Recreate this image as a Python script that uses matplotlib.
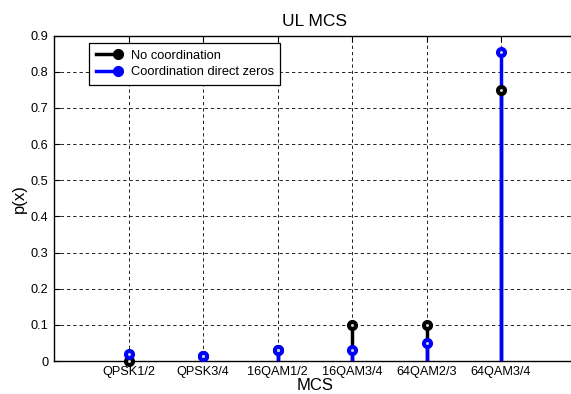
import numpy as np
import matplotlib.pyplot as plt

# Data
mcs_labels = ['QPSK1/2', 'QPSK3/4', '16QAM1/2', '16QAM3/4', '64QAM2/3', '64QAM3/4']
p_no_coord = [0.0, 0.015, 0.03, 0.10, 0.10, 0.75]
p_coord_zeros = [0.02, 0.015, 0.03, 0.03, 0.05, 0.855]

plt.rcParams['font.family'] = ['Liberation Sans', 'DejaVu Sans']

W, H = 571, 394
fig = plt.figure(figsize=(W / 100, H / 100), dpi=100)
ax = fig.add_axes([54 / W, 1 - 361 / H, 521.5 / W, 325.3 / H])

x = np.arange(1, len(mcs_labels) + 1)
LW = 2.5
MS = 7

for vals, col, lab in [(p_no_coord, 'black', 'No coordination'),
                       (p_coord_zeros, '#0000ff', 'Coordination direct zeros')]:
    ax.vlines(x, 0, vals, colors=col, linewidth=LW, zorder=3)
    ax.plot(x, vals, linewidth=0, marker='o', markersize=MS,
            color=col, clip_on=False, zorder=4)
    # small light centre dot as in the original rendering
    ax.plot(x, vals, linewidth=0, marker='o', markersize=1.2,
            color='#cccccc', clip_on=False, zorder=5)
    # proxy for legend (line + marker at the end)
    ax.plot([], [], color=col, linewidth=LW, marker='o', markersize=MS, label=lab)

ax.set_xlim(0, 7)
ax.set_ylim(0, 0.9)
ax.set_xticks(x)
ax.set_xticklabels(mcs_labels, fontsize=9.2)
ax.set_yticks(np.arange(0, 0.91, 0.1))
ax.set_yticklabels(['0'] + ['%.1f' % v for v in np.arange(0.1, 0.91, 0.1)], fontsize=9.2)
ax.tick_params(direction='in', top=True, right=True, length=4, width=0.8)
ax.tick_params(axis='x', pad=3.5)
ax.tick_params(axis='y', pad=4)

ax.grid(True, color='black', linestyle=(0, (4, 3.5)), linewidth=0.6)
ax.set_axisbelow(True)
for s in ax.spines.values():
    s.set_linewidth(1.0)

ax.set_title('UL MCS', fontsize=12.5, pad=7)
ax.set_xlabel('MCS', fontsize=12, labelpad=0)
ax.set_ylabel('p(x)', fontsize=12, labelpad=3)

leg = ax.legend(loc='upper left', bbox_to_anchor=(0.0677, 0.9766), borderaxespad=0,
                fontsize=9.3, numpoints=1, handlelength=1.75, handletextpad=0.95,
                fancybox=False, framealpha=1, edgecolor='black',
                borderpad=0.5, labelspacing=0.35)
leg.get_frame().set_linewidth(0.9)
for ln in leg.get_lines():
    ln.set_markevery([2])

fig.savefig('out.png', dpi=100)
